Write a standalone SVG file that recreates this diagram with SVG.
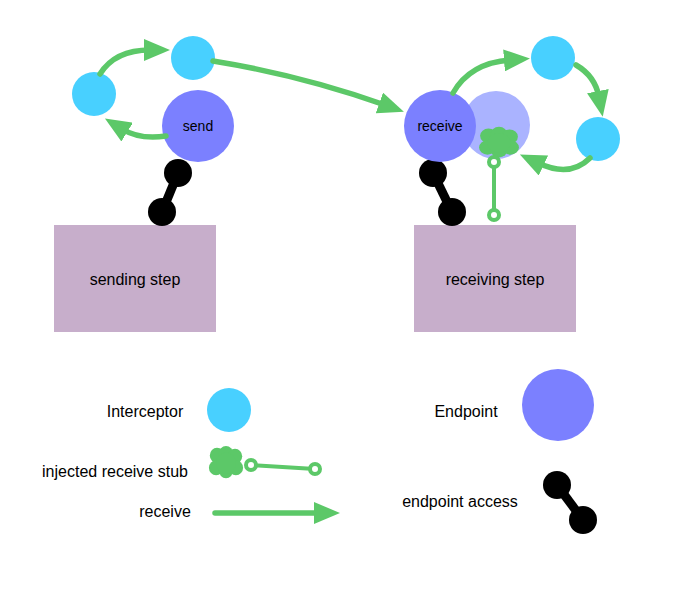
<svg xmlns="http://www.w3.org/2000/svg" width="693" height="603" viewBox="0 0 693 603">
<style>
text{font-family:"Liberation Sans",Arial,sans-serif;font-size:16px;fill:#000;text-anchor:middle;dominant-baseline:central}
.small{font-size:14px}
.icpt{fill:#48D0FF}
.ep{fill:#7B80FF}
.ep2{fill:#AAB3FF}
.step{fill:#C7AECB}
.flow{fill:none;stroke:#5CC868;stroke-width:5.5;stroke-linecap:round}
.bar{stroke:#000;stroke-width:9}
.stub{stroke:#5CC868;stroke-width:4;fill:none}
.ring{fill:#fff;stroke:#5CC868;stroke-width:4}
.cloud{fill:#5CC868}
</style>
<defs>
<marker id="ah" markerUnits="userSpaceOnUse" markerWidth="26" markerHeight="22" refX="6" refY="11" orient="auto">
<path d="M0,0 L26,11 L0,22 z" fill="#5CC868"/>
</marker>
<g id="cloudShape" class="cloud">
<circle cx="-10" cy="-8" r="8"/><circle cx="0" cy="-10" r="8"/><circle cx="10" cy="-7" r="8"/>
<circle cx="-11" cy="5" r="8"/><circle cx="0" cy="8" r="8"/><circle cx="11" cy="5" r="8"/>
<circle cx="0" cy="0" r="11"/>
</g>
</defs>

<g id="sending-step"><rect class="step" x="54" y="225" width="162" height="107"/><text x="135" y="279">sending step</text></g>
<g id="receiving-step"><rect class="step" x="414" y="225" width="162" height="107"/><text x="495" y="279">receiving step</text></g>

<g id="send-access"><line class="bar" x1="178" y1="173" x2="162" y2="212"/><circle cx="178" cy="173" r="14"/><circle cx="162" cy="212" r="14"/></g>
<g id="receive-access"><line class="bar" x1="433" y1="173" x2="452" y2="212"/><circle cx="433" cy="173" r="14"/><circle cx="452" cy="212" r="14"/></g>

<g id="interceptor-1"><circle class="icpt" cx="94" cy="94" r="22"/></g>
<g id="interceptor-2"><circle class="icpt" cx="193" cy="58" r="22"/></g>
<g id="interceptor-3"><circle class="icpt" cx="553" cy="58" r="22"/></g>
<g id="interceptor-4"><circle class="icpt" cx="598" cy="139" r="22"/></g>

<g id="send"><circle class="ep" cx="198" cy="126" r="36"/><text class="small" x="198" y="126">send</text></g>
<g id="injected-endpoint"><circle class="ep2" cx="496" cy="125" r="34"/></g>
<g id="receive"><circle class="ep" cx="440" cy="126" r="36"/><text class="small" x="440" y="126">receive</text></g>

<g id="receive-stub">
<line class="stub" x1="494" y1="162" x2="494" y2="215"/>
<use href="#cloudShape" transform="translate(499,143) scale(1.05,0.9)"/>
<circle class="ring" cx="494" cy="162" r="5"/>
<circle class="ring" cx="494" cy="215" r="5"/>
</g>

<g id="connectors">
<path class="flow" d="M166,136 Q140,140 122,129" marker-end="url(#ah)"/>
<path class="flow" d="M100,74 Q115,50 150,50" marker-end="url(#ah)"/>
<path class="flow" d="M213,61 Q300,75 385,105" marker-end="url(#ah)"/>
<path class="flow" d="M453,93 Q470,63 510,60" marker-end="url(#ah)"/>
<path class="flow" d="M576,65 Q595,76 599,97" marker-end="url(#ah)"/>
<path class="flow" d="M590,158 Q570,178 538,163" marker-end="url(#ah)"/>
</g>

<g id="legend-interceptor"><text x="145" y="411">Interceptor</text><circle class="icpt" cx="229" cy="410" r="22"/></g>
<g id="legend-endpoint"><text x="466" y="411">Endpoint</text><circle class="ep" cx="558" cy="405" r="36"/></g>
<g id="legend-stub"><text x="115" y="471">injected receive stub</text>
<line class="stub" x1="251" y1="465" x2="315" y2="469"/>
<use href="#cloudShape" transform="translate(226,463) scale(0.9,0.95)"/>
<circle class="ring" cx="251" cy="465" r="5"/>
<circle class="ring" cx="315" cy="469" r="5"/>
</g>
<g id="legend-receive"><text x="165" y="511">receive</text>
<path class="flow" d="M215,513 L320,513" marker-end="url(#ah)"/>
</g>
<g id="legend-access"><text x="460" y="501">endpoint access</text>
<line class="bar" x1="557" y1="485" x2="583" y2="520"/><circle cx="557" cy="485" r="14"/><circle cx="583" cy="520" r="14"/></g>
</svg>
